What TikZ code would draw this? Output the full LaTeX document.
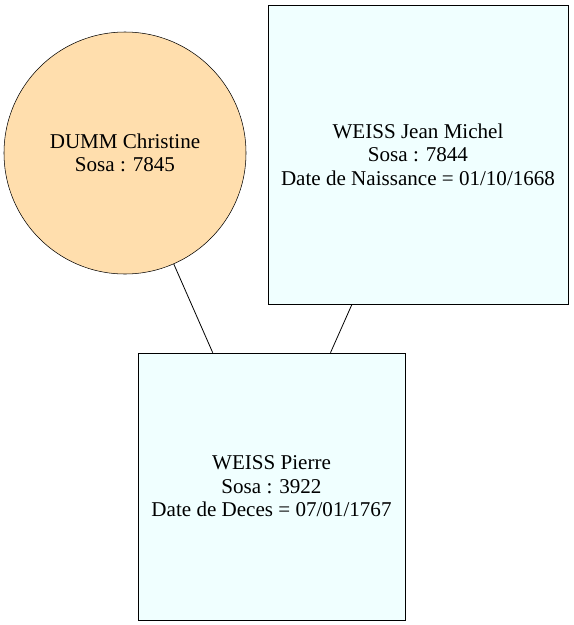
\documentclass[tikz,border=0pt]{standalone}
\usepackage{fontspec}
\setmainfont{Liberation Serif}
\definecolor{fondfemme}{HTML}{FFDEAD}
\definecolor{fondhomme}{HTML}{F0FFFF}
\tikzset{
    femme/.style={circle, draw, fill=fondfemme, inner sep=0pt, minimum size=181.5pt, align=center},
    homme/.style={rectangle, draw, fill=fondhomme, inner sep=0pt, align=center},
    lien/.style={draw, line width=0.6pt}
}
\begin{document}
\begin{tikzpicture}[x=0.75pt, y=-0.75pt, font=\fontsize{15.8pt}{17.6pt}\selectfont]
        \useasboundingbox (0,0) rectangle (574,625);
        % Parents
        \node[femme] (dumm) at (125,153) {DUMM Christine\\Sosa : 7845};
        \node[homme, minimum width=225pt, minimum height=224.25pt] (jean) at (418,154.5)
            {WEISS Jean Michel\\Sosa : 7844\\Date de Naissance = 01/10/1668};
    
        % Enfant
        \node[homme, minimum width=200.25pt, minimum height=200.25pt] (pierre) at (271.5,486.5)
            {WEISS Pierre\\Sosa : 3922\\Date de Deces = 07/01/1767};
    
        \draw[lien] (dumm) -- (pierre);
        \draw[lien] (jean) -- (pierre);
    \end{tikzpicture}
\end{document}
